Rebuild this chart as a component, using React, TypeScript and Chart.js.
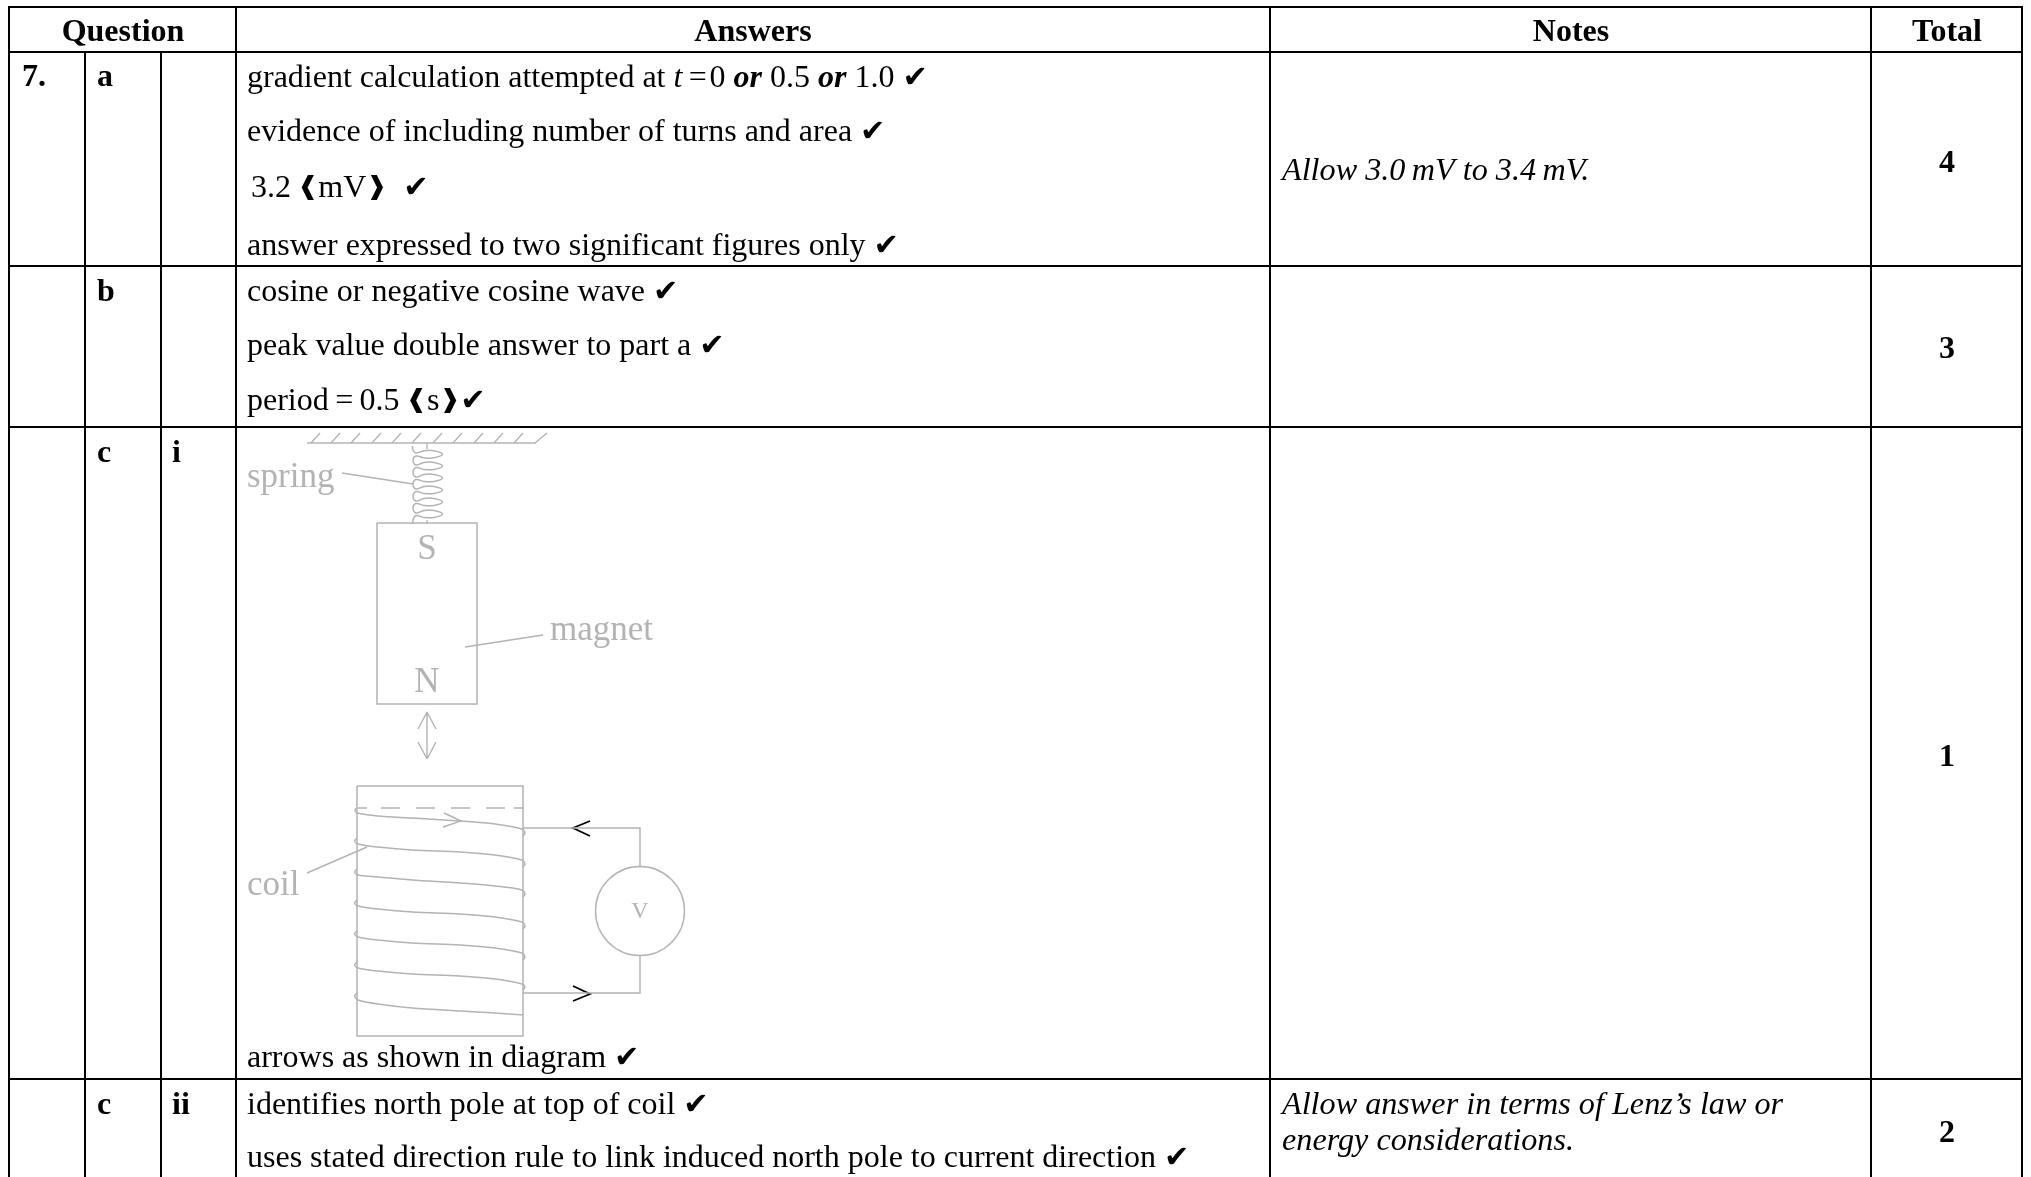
import React, { useEffect, useRef } from "react";
import { Chart, registerables } from "chart.js";

Chart.register(...registerables);

const PAGE_W = 2031;
const PAGE_H = 1177;
const BLACK = "#000000";
const GREY = "#b3b3b3";
const SERIF = '"Liberation Serif"';

// Table rules: [x1, y1, x2, y2, width]
const tableRules = [
  [8, 7, 2023, 7, 2],
  [8, 52, 2023, 52, 2],
  [8, 266, 2023, 266, 2],
  [8, 427, 2023, 427, 2],
  [8, 1079, 2023, 1079, 2],
  [9, 6, 9, 1177, 2],
  [85, 52, 85, 1177, 2],
  [161, 52, 161, 1177, 2],
  [236, 6, 236, 1177, 2],
  [1270, 6, 1270, 1177, 2],
  [1871, 6, 1871, 1177, 2],
  [2022, 6, 2022, 1177, 2],
];

// Diagram straight strokes
const ceiling = [[307, 443, 536, 443]];
const hatching = [
  [311, 443, 320, 433], [331, 443, 340, 433], [351, 443, 360, 433], [372, 443, 381, 433],
  [392, 443, 401, 433], [412, 443, 421, 433], [433, 443, 442, 433], [453, 443, 462, 433],
  [474, 443, 483, 433], [494, 443, 503, 433], [514, 443, 523, 433], [535, 443, 547, 433],
];
const springStubs = [[427, 443, 427, 449], [427, 520, 427, 524]];
const pointers = [
  [342, 473, 413, 484],
  [465, 647, 543, 635],
  [307, 873, 367, 847],
];
const magnetBox = [[377, 523], [477, 523], [477, 704], [377, 704], [377, 523]];
const motionArrow = [
  [427, 712, 427, 759], [418, 729, 427, 712], [427, 712, 436, 729],
  [418, 742, 427, 759], [427, 759, 436, 742],
];
const coilBox = [[357, 786], [523, 786], [523, 1036], [357, 1036], [357, 786]];
const coilTopDashes = [
  [358, 808, 367, 808], [381, 808, 400, 808], [416, 808, 435, 808],
  [451, 808, 470, 808], [486, 808, 505, 808], [514, 808, 523, 808],
];
const circuitTop = [[523, 828], [640, 828], [640, 867]];
const circuitBottom = [[640, 956], [640, 993], [523, 993]];
const voltmeterCentre = [[640, 911]];
const innerArrow = [[444, 813], [461, 821], [443, 827]];
const blackArrowTop = [[590, 821], [573, 828], [590, 836]];
const blackArrowBottom = [[573, 986], [590, 994], [573, 1001]];

const springPath = [
  [412.5, 446], [413, 450], [416, 453], [424, 450.7], [434, 450.7], [442.5, 454.3], [434, 457.8], [424, 457.8], [416, 456],
  [413, 460.5], [416, 465], [424, 462.5], [434, 462.5], [442.5, 466], [434, 469.5], [424, 469.5], [416, 467.5],
  [413, 472.5], [416, 477], [424, 474.5], [434, 474.5], [442.5, 478], [434, 481.5], [424, 481.5], [416, 479.5],
  [413, 484.5], [416, 489], [424, 486.5], [434, 486.5], [442.5, 490], [434, 493.5], [424, 493.5], [416, 491.5],
  [413, 496.5], [416, 501], [424, 498.5], [434, 498.5], [442.5, 502], [434, 505.5], [424, 505.5], [416, 503.5],
  [413, 508.5], [416, 513], [424, 510.5], [434, 510.5], [442.5, 514], [434, 517.5], [424, 517.5], [416, 515.5],
  [413, 520], [413, 524],
];

const coilTurns = [
  [[357, 808], [355, 810], [357, 813], [378, 816], [412, 818], [460, 821], [495, 824], [522, 829], [525, 833], [523, 836]],
  [[357, 838], [354.5, 841], [358, 844], [378, 847], [412, 850], [460, 852], [495, 855], [522, 860], [525, 864], [523, 867]],
  [[357, 869], [354.5, 872], [358, 875], [378, 877], [412, 880], [460, 883], [495, 886], [522, 890], [525, 894], [523, 897]],
  [[357, 900], [354.5, 903], [358, 906], [378, 909], [412, 912], [460, 914], [495, 917], [522, 922], [525, 926], [523, 929]],
  [[357, 931], [354.5, 934], [358, 937], [378, 940], [412, 943], [460, 945], [495, 948], [522, 953], [525, 957], [523, 960]],
  [[357, 962], [354.5, 965], [358, 968], [378, 971], [412, 974], [460, 976], [495, 979], [522, 984], [525, 987], [523, 990]],
  [[357, 993], [354.5, 996], [358, 1000], [378, 1004], [412, 1008], [460, 1011], [495, 1013], [523, 1015]],
];

const headerCells = [
  ["Question", 123, 41],
  ["Answers", 753, 41],
  ["Notes", 1571, 41],
  ["Total", 1947, 41],
];
const partLabels = [
  ["7.", 22, 86],
  ["a", 97, 86],
  ["b", 97, 301],
  ["c", 97, 462],
  ["i", 172, 462],
  ["c", 97, 1114],
  ["ii", 172, 1114],
];
const totals = [
  ["4", 1947, 172],
  ["3", 1947, 358],
  ["1", 1947, 766],
  ["2", 1947, 1142],
];
const answerLines = [
  [247, 87, [["gradient calculation attempted at ", ""], ["t", "italic"], ["\u2009=\u200A", ""], ["0 ", ""], ["or", "italic bold"], [" 0.5 ", ""], ["or", "italic bold"], [" 1.0 ", ""], ["\u2714", "check"]]],
  [247, 141, [["evidence of including number of turns and area ", ""], ["\u2714", "check"]]],
  [251, 197, [["3.2\u2009", ""], ["\u2770", "bracket"], ["mV", ""], ["\u2771", "bracket"], ["  ", ""], ["\u2714", "check"]]],
  [247, 255, [["answer expressed to two significant figures only ", ""], ["\u2714", "check"]]],
  [247, 301, [["cosine or negative cosine wave ", ""], ["\u2714", "check"]]],
  [247, 355, [["peak value double answer to part a ", ""], ["\u2714", "check"]]],
  [247, 410, [["period", ""], ["\u2009=\u2009", ""], ["0.5\u2009", ""], ["\u2770", "bracket"], ["s", ""], ["\u2771", "bracket"], ["\u2714", "check"]]],
  [247, 1067, [["arrows as shown in diagram ", ""], ["\u2714", "check"]]],
  [247, 1114, [["identifies north pole at top of coil ", ""], ["\u2714", "check"]]],
  [247, 1167, [["uses stated direction rule to link induced north pole to current direction ", ""], ["\u2714", "check"]]],
];
const noteLines = [
  ["Allow 3.0\u2009mV to 3.4\u2009mV.", 1282, 180],
  ["Allow answer in terms of Lenz\u2019s law or", 1282, 1114],
  ["energy considerations.", 1282, 1150],
];
const diagramLabels = [
  ["spring", 247, 487, "left", 35],
  ["magnet", 550, 640, "left", 35],
  ["coil", 247, 895, "left", 35],
  ["S", 427, 559, "center", 35],
  ["N", 427, 692, "center", 35],
  ["V", 640, 918, "center", 24],
];

const segs = (list: number[][]) => {
  const pts: any[] = [];
  list.forEach(([a, b, c, d]) => {
    pts.push({ x: a, y: b }, { x: c, y: d }, { x: c, y: null });
  });
  return pts;
};
const path = (list: number[][]) => list.map(([x, y]) => ({ x, y }));

const line = (data: any[], color = GREY, width = 1.5, extra: any = {}) => ({
  type: "line",
  data,
  borderColor: color,
  borderWidth: width,
  pointRadius: 0,
  fill: false,
  tension: 0,
  spanGaps: false,
  clip: false,
  ...extra,
});

const fontFor = (style: string, size: number) => {
  if (style === "check") return `${size * 0.95}px "DejaVu Sans"`;
  if (style === "bracket") return `${size * 0.78}px "DejaVu Sans"`;
  return `${style} ${size}px ${SERIF}`.trim();
};

const textPlugin = {
  id: "tableText",
  afterDatasetsDraw(chart: any) {
    const { ctx, scales } = chart;
    const px = (x: number) => scales.x.getPixelForValue(x);
    const py = (y: number) => scales.y.getPixelForValue(y);
    const size = 32;
    ctx.save();
    ctx.textBaseline = "alphabetic";
    ctx.fillStyle = BLACK;
    ctx.textAlign = "center";
    ctx.font = `bold ${size}px ${SERIF}`;
    headerCells.forEach(([t, x, y]: any) => ctx.fillText(t, px(x), py(y)));
    totals.forEach(([t, x, y]: any) => ctx.fillText(t, px(x), py(y)));
    ctx.textAlign = "left";
    partLabels.forEach(([t, x, y]: any) => ctx.fillText(t, px(x), py(y)));
    answerLines.forEach(([x, y, runs]: any) => {
      let cx = px(x);
      runs.forEach(([t, style]: any) => {
        ctx.font = fontFor(style, size);
        ctx.fillText(t, cx, py(y) + (style === "bracket" ? -3 : 0));
        cx += ctx.measureText(t).width;
      });
    });
    ctx.font = `italic ${size + 0.2}px ${SERIF}`;
    noteLines.forEach(([t, x, y]: any) => ctx.fillText(t, px(x), py(y)));
    ctx.fillStyle = GREY;
    diagramLabels.forEach(([t, x, y, align, fs]: any) => {
      ctx.textAlign = align;
      ctx.font = `${fs}px ${SERIF}`;
      ctx.fillText(t, px(x), py(y));
    });
    ctx.restore();
  },
};

export default function App() {
  const ref = useRef<HTMLCanvasElement | null>(null);
  useEffect(() => {
    if (!ref.current) return;
    const rules = tableRules.map((r) =>
      line(path([[r[0], r[1]], [r[2], r[3]]]), BLACK, r[4])
    );
    const chart = new Chart(ref.current, {
      type: "line",
      data: {
        datasets: [
          ...rules,
          line(segs(ceiling)),
          line(segs(hatching), GREY, 1.3),
          line(segs(springStubs), GREY, 1.3),
          line(path(springPath), GREY, 1.5, { tension: 0.4 }),
          line(segs(pointers), GREY, 1.4),
          line(path(magnetBox)),
          line(segs(motionArrow), GREY, 1.4),
          line(path(coilBox)),
          line(segs(coilTopDashes), GREY, 1.5),
          ...coilTurns.map((t) => line(path(t), GREY, 1.5, { tension: 0.3 })),
          line(path(circuitTop), GREY, 1.5),
          line(path(circuitBottom), GREY, 1.5),
          line(path(voltmeterCentre), GREY, 1.2, {
            pointRadius: 44.5,
            pointBorderColor: GREY,
            pointBackgroundColor: "#ffffff",
            pointBorderWidth: 1.4,
            showLine: false,
          }),
          line(path(innerArrow), GREY, 1.4),
          line(path(blackArrowTop), BLACK, 1.8),
          line(path(blackArrowBottom), BLACK, 1.8),
        ] as any,
      },
      options: {
        animation: false,
        responsive: false,
        events: [],
        layout: { padding: 0, autoPadding: false },
        plugins: { legend: { display: false }, tooltip: { enabled: false }, title: { display: false } },
        scales: {
          x: { type: "linear", display: false, min: 0, max: PAGE_W },
          y: { type: "linear", display: false, min: 0, max: PAGE_H, reverse: true },
        },
      } as any,
      plugins: [textPlugin as any],
    });
    return () => chart.destroy();
  }, []);
  return (
    <canvas
      ref={ref}
      width={PAGE_W}
      height={PAGE_H}
      style={{ position: "absolute", left: 0, top: 0, width: PAGE_W, height: PAGE_H, display: "block" }}
    />
  );
}
